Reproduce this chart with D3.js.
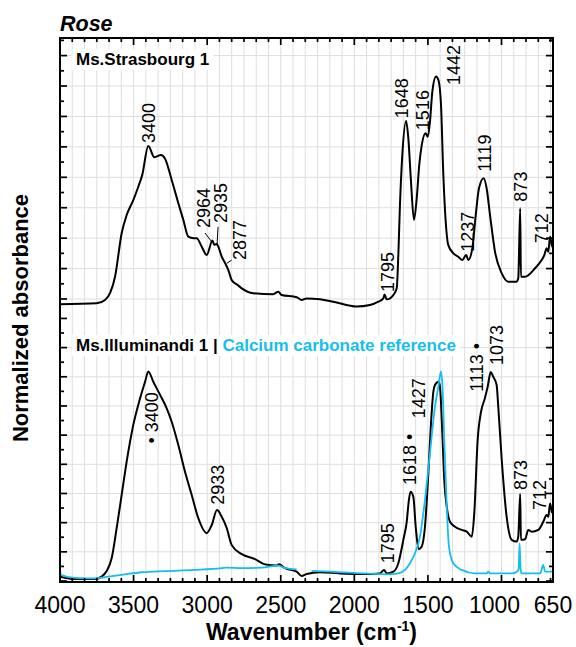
<!DOCTYPE html>
<html>
<head>
<meta charset="utf-8">
<script src="https://cdn.jsdelivr.net/npm/d3@7"></script>
<style>
  body { margin: 0; background: #fff; }
  svg { display: block; font-family: 'Liberation Sans', Arial, sans-serif; }
</style>
</head>
<body>
<svg id="chart" width="576" height="647"></svg>
<script>
const xTickLabels = [4000, 3500, 3000, 2500, 2000, 1500, 1000, 650]

// [wavenumber, normalized absorbance]
const strasbourg = [
  [4000, -0.017], [3751, -0.014], [3694, -0.003], [3660, 0.019], [3626, 0.073], [3581, 0.216],
  [3547, 0.276], [3502, 0.325], [3468, 0.369], [3441, 0.408], [3400, 0.503], [3359, 0.466],
  [3314, 0.473], [3287, 0.462], [3241, 0.391], [3196, 0.315], [3162, 0.260], [3128, 0.205],
  [3094, 0.200], [3071, 0.200], [3037, 0.172], [3003, 0.145], [2964, 0.192], [2952, 0.178],
  [2935, 0.181], [2924, 0.172], [2901, 0.139], [2877, 0.117], [2856, 0.095], [2833, 0.062],
  [2790, 0.045], [2765, 0.035], [2687, 0.019], [2551, 0.016], [2517, 0.024], [2494, 0.013],
  [2392, 0.006], [2358, -0.003], [2324, 0.002], [2233, -0.001], [2143, -0.009], [1984, -0.025],
  [1894, -0.020], [1837, -0.009], [1803, 0.002], [1795, 0.015], [1780, -0.001], [1735, 0.013],
  [1712, 0.035], [1701, 0.145], [1690, 0.309], [1674, 0.473], [1648, 0.585], [1633, 0.528],
  [1615, 0.386], [1595, 0.260], [1576, 0.331], [1559, 0.440], [1542, 0.506], [1516, 0.545],
  [1501, 0.533], [1486, 0.583], [1470, 0.681], [1445, 0.731], [1429, 0.720], [1411, 0.638],
  [1396, 0.418], [1379, 0.254], [1362, 0.178], [1327, 0.150], [1294, 0.139], [1266, 0.128],
  [1240, 0.145], [1226, 0.128], [1198, 0.167], [1175, 0.276], [1153, 0.364], [1121, 0.397],
  [1101, 0.364], [1078, 0.276], [1044, 0.155], [999, 0.085], [954, 0.057], [897, 0.057],
  [886, 0.068], [873, 0.298], [868, 0.073], [840, 0.073], [772, 0.101], [727, 0.128],
  [709, 0.144], [693, 0.167], [682, 0.155], [670, 0.205], [658, 0.178], [650, 0.168]
]

const illuminandi = [
  [4000, 0.015], [3898, 0.007], [3762, 0.007], [3717, 0.015], [3683, 0.034], [3649, 0.078],
  [3615, 0.181], [3581, 0.295], [3547, 0.409], [3502, 0.535], [3456, 0.626], [3422, 0.683],
  [3400, 0.718], [3366, 0.683], [3320, 0.638], [3275, 0.592], [3241, 0.546], [3196, 0.466],
  [3151, 0.375], [3105, 0.295], [3060, 0.215], [3003, 0.164], [2969, 0.192], [2933, 0.243],
  [2901, 0.220], [2867, 0.181], [2833, 0.123], [2765, 0.092], [2675, 0.075], [2607, 0.057],
  [2527, 0.053], [2512, 0.057], [2471, 0.044], [2392, 0.032], [2358, 0.017], [2324, 0.024],
  [2233, 0.030], [2097, 0.026], [1939, 0.024], [1826, 0.026], [1798, 0.038], [1780, 0.026],
  [1735, 0.032], [1701, 0.061], [1667, 0.141], [1644, 0.203], [1629, 0.278], [1618, 0.306],
  [1599, 0.289], [1583, 0.186], [1561, 0.109], [1542, 0.118], [1520, 0.186], [1497, 0.369],
  [1479, 0.541], [1463, 0.649], [1452, 0.672], [1427, 0.683], [1418, 0.666], [1402, 0.506],
  [1389, 0.346], [1372, 0.255], [1350, 0.203], [1316, 0.186], [1270, 0.175], [1236, 0.169],
  [1202, 0.152], [1185, 0.232], [1162, 0.483], [1139, 0.580], [1113, 0.626], [1094, 0.666],
  [1073, 0.716], [1056, 0.700], [1033, 0.672], [1022, 0.598], [999, 0.420], [965, 0.220],
  [931, 0.141], [897, 0.135], [886, 0.152], [873, 0.298], [868, 0.141], [840, 0.143],
  [818, 0.175], [795, 0.169], [750, 0.175], [716, 0.203], [693, 0.226], [682, 0.220],
  [670, 0.266], [658, 0.238], [650, 0.232]
]

// null marks the cut CO2 region
const calcite = [
  [4000, 0.045], [3995, 0.021], [3898, 0.011], [3762, 0.009], [3672, 0.015], [3581, 0.021],
  [3445, 0.030], [3287, 0.034], [3083, 0.038], [2901, 0.044], [2867, 0.046], [2765, 0.044],
  [2629, 0.046], [2517, 0.053], [2471, 0.044], [2392, 0.040], [2340, null], [2290, 0.035],
  [2165, 0.032], [1939, 0.026], [1780, 0.023], [1701, 0.026], [1656, 0.038], [1622, 0.061],
  [1588, 0.095], [1554, 0.152], [1520, 0.278], [1486, 0.438], [1452, 0.598], [1429, 0.666],
  [1411, 0.718], [1400, 0.655], [1389, 0.483], [1372, 0.255], [1357, 0.118], [1328, 0.061],
  [1270, 0.038], [1180, 0.026], [1101, 0.026], [1090, 0.032], [1078, 0.026], [931, 0.026],
  [897, 0.032], [884, 0.040], [877, 0.129], [870, 0.040], [863, 0.026], [738, 0.026],
  [716, 0.055], [704, 0.032], [658, 0.032], [650, 0.038]
]

const strasbourgPeaks = [
  {label: '3400', wn: 3394, a: 0.513},
  {label: '2964', wn: 3026, a: 0.233},
  {label: '2935', wn: 2906, a: 0.250},
  {label: '2877', wn: 2777, a: 0.128},
  {label: '1795', wn: 1772, a: 0.023},
  {label: '1648', wn: 1681, a: 0.594},
  {label: '1516', wn: 1535, a: 0.555},
  {label: '1442', wn: 1328, a: 0.703},
  {label: '1237', wn: 1233, a: 0.155},
  {label: '1119', wn: 1117, a: 0.418},
  {label: '873', wn: 871, a: 0.320},
  {label: '712', wn: 730, a: 0.183}
]

const strasbourgLeaders = [
  [[3015, 0.217], [2969, 0.188]],
  [[2926, 0.237], [2933, 0.177]],
  [[2833, 0.128], [2867, 0.117]]
]

const illuminandiPeaks = [
  {label: '\u2022 3400', wn: 3375, a: 0.471},
  {label: '2933', wn: 2926, a: 0.261},
  {label: '1795', wn: 1771, a: 0.061},
  {label: '1618 \u2022', wn: 1622, a: 0.329},
  {label: '1427', wn: 1561, a: 0.558},
  {label: '1113 \u2022', wn: 1170, a: 0.649},
  {label: '1073', wn: 1034, a: 0.740},
  {label: '873', wn: 871, a: 0.312},
  {label: '712', wn: 738, a: 0.243}
]

const black = '#000'
const cyan = '#14bef0'
const gridColor = '#dedede'

const svg = d3.select('#chart')
const margin = {top: 38, right: 23, bottom: 65, left: 60}
const width = +svg.attr('width') - margin.left - margin.right
const height = +svg.attr('height') - margin.top - margin.bottom
const g = svg.append('g').attr('transform', 'translate(' + margin.left + ',' + margin.top + ')')

const x = d3.scaleLinear().domain([4000, 650]).range([0, width])
// the two spectra sit in separate stacked layers with their own y scales
const yTop = d3.scaleLinear().domain([0, 0.8]).range([261, 17.6])
const yBottom = d3.scaleLinear().domain([0, 0.8]).range([543, 309.6])

const xTicks = d3.range(41).map(i => 4000 - i * 500 / 6)
const topTicks = d3.range(18).map(i => i * 0.05)
const bottomTicks = d3.range(19).map(i => i * 0.05)

// grid
g.append('g')
  .selectAll('line')
  .data(xTicks)
  .enter().append('line')
  .attr('x1', d => x(d)).attr('x2', d => x(d))
  .attr('y1', 0).attr('y2', height)
  .attr('stroke', gridColor)
  .attr('stroke-width', 1)

const hGrid = d3.range(9).map(i => yTop(i / 10)).concat(d3.range(1, 9).map(i => yBottom(i / 10)))
g.append('g')
  .selectAll('line')
  .data(hGrid)
  .enter().append('line')
  .attr('x1', 0).attr('x2', width)
  .attr('y1', d => d).attr('y2', d => d)
  .attr('stroke', gridColor)
  .attr('stroke-width', 1)

// spectra
svg.append('defs').append('clipPath').attr('id', 'plot-clip')
  .append('rect').attr('width', width).attr('height', height)

const lineFor = y => d3.line()
  .defined(d => d[1] !== null)
  .x(d => x(d[0]))
  .y(d => y(d[1]))
  .curve(d3.curveMonotoneX)

const spectra = g.append('g').attr('clip-path', 'url(#plot-clip)')

spectra.append('path')
  .datum(strasbourg)
  .attr('fill', 'none')
  .attr('stroke', black)
  .attr('stroke-width', 2)
  .attr('stroke-linejoin', 'round')
  .attr('d', lineFor(yTop))

spectra.append('path')
  .datum(illuminandi)
  .attr('fill', 'none')
  .attr('stroke', black)
  .attr('stroke-width', 2)
  .attr('stroke-linejoin', 'round')
  .attr('d', lineFor(yBottom))

spectra.append('path')
  .datum(calcite)
  .attr('fill', 'none')
  .attr('stroke', cyan)
  .attr('stroke-width', 1.8)
  .attr('stroke-linejoin', 'round')
  .attr('d', lineFor(yBottom))

// frame and inward ticks
g.append('rect')
  .attr('width', width).attr('height', height)
  .attr('fill', 'none').attr('stroke', black).attr('stroke-width', 2)

const ticks = g.append('g').attr('stroke', black).attr('stroke-width', 1.7)
xTicks.forEach((t, i) => {
  const len = i % 6 === 0 ? 7 : 4
  ticks.append('line').attr('x1', x(t)).attr('x2', x(t)).attr('y1', 0).attr('y2', len)
  ticks.append('line').attr('x1', x(t)).attr('x2', x(t)).attr('y1', height).attr('y2', height - len)
})

const yTickMarks = topTicks.map((t, i) => ({pos: yTop(t), major: i % 2 === 0}))
  .concat(bottomTicks.map((t, i) => ({pos: yBottom(t), major: i % 2 === 0})))
yTickMarks.forEach(t => {
  const len = t.major ? 7 : 4
  ticks.append('line').attr('x1', 0).attr('x2', len).attr('y1', t.pos).attr('y2', t.pos)
  ticks.append('line').attr('x1', width).attr('x2', width - len).attr('y1', t.pos).attr('y2', t.pos)
})

// tick labels; the 1000 label is nudged left as in the original to clear 650
g.append('g')
  .selectAll('text')
  .data(xTickLabels)
  .enter().append('text')
  .attr('x', d => x(d))
  .attr('dx', d => d === 1000 ? -7 : 0)
  .attr('y', height + 31)
  .attr('text-anchor', 'middle')
  .attr('font-size', '23px')
  .text(d => d)

// peak labels
const drawPeaks = (peaks, y) => {
  g.append('g')
    .selectAll('text')
    .data(peaks)
    .enter().append('text')
    .attr('transform', d => 'translate(' + x(d.wn) + ',' + y(d.a) + ') rotate(-90)')
    .attr('dy', '0.35em')
    .attr('font-size', '18px')
    .attr('fill', black)
    .text(d => d.label)
}
drawPeaks(strasbourgPeaks, yTop)
drawPeaks(illuminandiPeaks, yBottom)

g.append('g')
  .selectAll('line')
  .data(strasbourgLeaders)
  .enter().append('line')
  .attr('x1', d => x(d[0][0])).attr('y1', d => yTop(d[0][1]))
  .attr('x2', d => x(d[1][0])).attr('y2', d => yTop(d[1][1]))
  .attr('stroke', black)
  .attr('stroke-width', 1)

// panel labels on white boxes
const panelLabel = (ty, parts) => {
  const lg = g.append('g')
  const text = lg.append('text')
    .attr('x', 16)
    .attr('y', ty)
    .attr('font-size', '17px')
    .attr('font-weight', 'bold')
  parts.forEach(p => text.append('tspan').attr('fill', p.color).text(p.text))
  const box = text.node().getBBox()
  lg.insert('rect', 'text')
    .attr('x', box.x - 4).attr('y', box.y - 1)
    .attr('width', box.width + 8).attr('height', box.height + 2)
    .attr('fill', '#fff')
}
panelLabel(27, [{text: 'Ms.Strasbourg 1', color: black}])
panelLabel(313, [
  {text: 'Ms.Illuminandi 1 | ', color: black},
  {text: 'Calcium carbonate reference', color: cyan}
])

// titles
g.append('text')
  .attr('x', 0)
  .attr('y', -7)
  .attr('font-size', '21.5px')
  .attr('font-weight', 'bold')
  .attr('font-style', 'italic')
  .text('Rose')

const xTitle = g.append('text')
  .attr('x', width / 2 + 5)
  .attr('y', height + 58)
  .attr('text-anchor', 'middle')
  .attr('font-size', '23px')
  .attr('font-weight', 'bold')
xTitle.append('tspan').text('Wavenumber (cm')
xTitle.append('tspan').attr('font-size', '14px').attr('dy', '-9').text('-1')
xTitle.append('tspan').attr('dy', '9').text(')')

g.append('text')
  .attr('transform', 'translate(' + (28 - margin.left) + ',' + (318 - margin.top) + ') rotate(-90)')
  .attr('text-anchor', 'middle')
  .attr('font-size', '22px')
  .attr('font-weight', 'bold')
  .text('Normalized absorbance')
</script>
</body>
</html>
